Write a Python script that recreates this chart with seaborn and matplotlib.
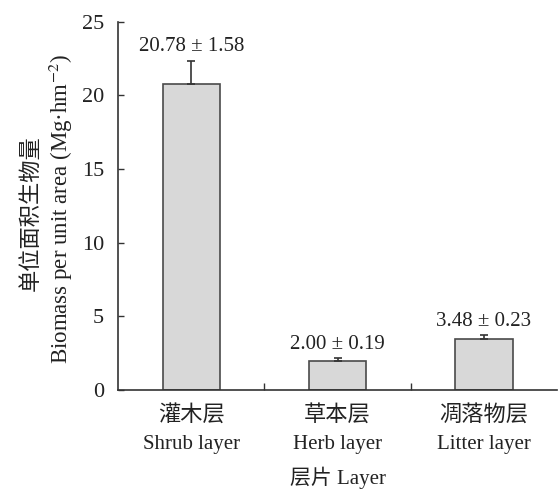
import matplotlib
matplotlib.use("Agg")
import matplotlib.pyplot as plt
import seaborn as sns
import pandas as pd
import numpy as np

categories_cn = ["灌木层", "草本层", "凋落物层"]
categories_en = ["Shrub layer", "Herb layer", "Litter layer"]
means = [20.78, 2.00, 3.48]
sds = [1.58, 0.19, 0.23]
y_ticks = [0, 5, 10, 15, 20, 25]

sns.set_theme(style="white")
fam = ["Liberation Serif", "Noto Sans CJK SC"]
plt.rcParams["font.family"] = fam
plt.rcParams["mathtext.fontset"] = "stix"

df = pd.DataFrame({"layer": categories_cn, "mean": means})

fig = plt.figure(figsize=(5.58, 4.91), dpi=100)
ax = fig.add_axes([0.2115, 0.2057, 0.787, 0.75])

sns.barplot(data=df, x="layer", y="mean", ax=ax, color="#d8d8d8",
            edgecolor="#4a4a4a", linewidth=1.2, width=0.39, errorbar=None,
            saturation=1)

xs = [p.get_x() + p.get_width() / 2 for p in ax.patches]
ax.errorbar(xs, means, yerr=[np.zeros(len(sds)), sds], fmt="none",
            ecolor="#333333", elinewidth=1.2, capsize=3, capthick=1.2)

for x, m, s in zip(xs, means, sds):
    ax.annotate(f"{m:.2f} ± {s:.2f}", (x, m + s), xytext=(0, 3),
                textcoords="offset points", ha="center", va="bottom",
                fontsize=15, family=fam, color="#222222")

ax.set_xlim(-0.5, 2.5)
ax.set_ylim(0, 25)
ax.set_yticks(y_ticks)
ax.set_yticklabels([str(t) for t in y_ticks], fontsize=16)
ax.tick_params(axis="y", direction="in", length=4, width=1, color="#333333",
               left=True, pad=10, labelcolor="#222222")
ax.set_xticks([0, 1, 2])
ax.set_xticklabels(categories_cn, fontsize=16, color="#222222")
ax.tick_params(axis="x", length=0, pad=11)
ax.set_xticks([0.5, 1.5], minor=True)
ax.tick_params(axis="x", which="minor", direction="in", length=5, width=1,
               color="#333333", bottom=True)

for x, en in zip(xs, categories_en):
    ax.annotate(en, (x, 0), xycoords=("data", "axes fraction"),
                xytext=(0, -39), textcoords="offset points",
                ha="center", va="center", fontsize=15, family=fam,
                color="#222222")

ax.set_xlabel("层片 Layer", fontsize=15, color="#222222", labelpad=29)
ax.set_ylabel("Biomass per unit area (Mg·hm$^{-2}$)",
              fontsize=16.5, color="#222222")
ax.yaxis.set_label_coords(-0.098, 0.49)
ax.text(-0.198, 0.48, "单位面积生物量", transform=ax.transAxes,
        rotation=90, ha="center", va="center", fontsize=16,
        family=fam, color="#222222")

sns.despine(ax=ax, top=True, right=True)
for sp in ["left", "bottom"]:
    ax.spines[sp].set_color("#333333")
    ax.spines[sp].set_linewidth(1.2)

fig.savefig("out.png", dpi=100, facecolor="white")
